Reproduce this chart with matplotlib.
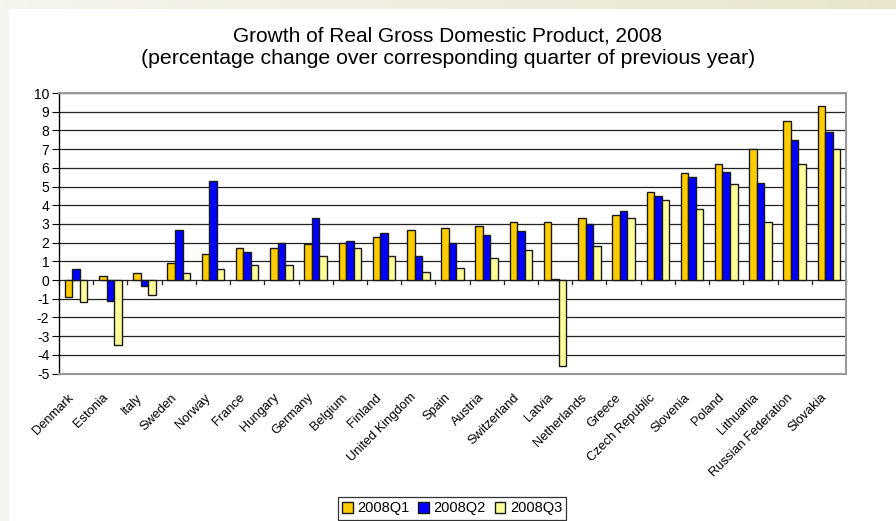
import numpy as np
import matplotlib.pyplot as plt
from matplotlib.patches import Rectangle
from matplotlib.colors import LinearSegmentedColormap

plt.rcParams['font.family'] = ['Liberation Sans', 'DejaVu Sans']
plt.rcParams['axes.unicode_minus'] = False

countries = ['Denmark', 'Estonia', 'Italy', 'Sweden', 'Norway', 'France', 'Hungary',
             'Germany', 'Belgium', 'Finland', 'United Kingdom', 'Spain', 'Austria',
             'Switzerland', 'Latvia', 'Netherlands', 'Greece', 'Czech Republic',
             'Slovenia', 'Poland', 'Lithuania', 'Russian Federation', 'Slovakia']
q1 = [-0.9, 0.2, 0.4, 0.9, 1.4, 1.7, 1.7, 1.9, 2.0, 2.3, 2.7, 2.8, 2.9,
      3.1, 3.1, 3.3, 3.5, 4.7, 5.7, 6.2, 7.0, 8.5, 9.3]
q2 = [0.6, -1.1, -0.3, 2.7, 5.3, 1.5, 2.0, 3.3, 2.1, 2.5, 1.3, 2.0, 2.4,
      2.6, 0.05, 3.0, 3.7, 4.5, 5.5, 5.8, 5.2, 7.5, 7.9]
q3 = [-1.2, -3.5, -0.8, 0.4, 0.6, 0.8, 0.8, 1.3, 1.7, 1.3, 0.45, 0.65, 1.2,
      1.6, -4.6, 1.8, 3.3, 4.3, 3.8, 5.15, 3.1, 6.2, 7.0]
series = ['2008Q1', '2008Q2', '2008Q3']
colors = ['#FFCC00', '#0000FF', '#FFFF99']

fig = plt.figure(figsize=(8.96, 5.21), dpi=100)

# slide background bits
bg = fig.add_axes([0, 0, 1, 1], zorder=-10)
bg.axis('off')
bg.set_xlim(0, 1)
bg.set_ylim(0, 1)
grad = np.linspace(0, 1, 256).reshape(1, -1)
bg.imshow(grad, extent=[0, 1, 1 - 9 / 521, 1], aspect='auto',
          cmap=LinearSegmentedColormap.from_list('b', ['#f6f5ee', '#e9e5cd']))
bg.add_patch(Rectangle((0, 0), 9 / 896, 1 - 9 / 521, color='#f5f5f0', lw=0))

ax = fig.add_axes([59 / 896, 1 - 373.5 / 521, 787 / 896, 280.5 / 521])

x = np.arange(len(countries))
w = 0.22
for k, (vals, c, name) in enumerate(zip([q1, q2, q3], colors, series)):
    ax.bar(x + (k - 1) * w, vals, w, color=c, edgecolor='#1a1a1a', linewidth=1.0,
           label=name, zorder=3)

ax.set_xlim(-0.5, len(countries) - 0.5)
ax.set_ylim(-5, 10)
ax.set_yticks(range(-5, 11))
for v in range(-4, 11):
    ax.axhline(v, color='#222222', lw=0.9, zorder=1)

for s in ['top', 'right', 'bottom']:
    ax.spines[s].set_color('#999999')
    ax.spines[s].set_linewidth(1.5)
ax.spines['left'].set_linewidth(1.0)
ax.tick_params(axis='y', direction='out', length=5, labelsize=10, pad=2)

# category ticks along zero line
ax.set_xticks([])
for b in np.arange(len(countries) + 1) - 0.5:
    ax.plot([b, b], [0, -0.22], color='#222222', lw=0.9, zorder=2, clip_on=False)

for i, name in enumerate(countries):
    ax.annotate(name, xy=(i - 0.12, -5), xycoords='data', xytext=(0, -16),
                textcoords='offset points', rotation=45, rotation_mode='anchor',
                ha='right', va='center', fontsize=9.3)

fig.text(0.5, 1 - 36 / 521, 'Growth of Real Gross Domestic Product, 2008',
         ha='center', va='center', fontsize=15)
fig.text(0.5, 1 - 59 / 521, '(percentage change over corresponding quarter of previous year)',
         ha='center', va='center', fontsize=15.3)

leg = fig.legend(loc='upper center', bbox_to_anchor=(452 / 896, 1 - 497 / 521), ncol=3,
                 fontsize=10.5, frameon=True, fancybox=False, edgecolor='black',
                 handlelength=0.75, handleheight=0.75, handletextpad=0.3,
                 columnspacing=0.6, borderpad=0.3, borderaxespad=0)
leg.get_frame().set_linewidth(0.9)

fig.savefig('out.png', dpi=100)
